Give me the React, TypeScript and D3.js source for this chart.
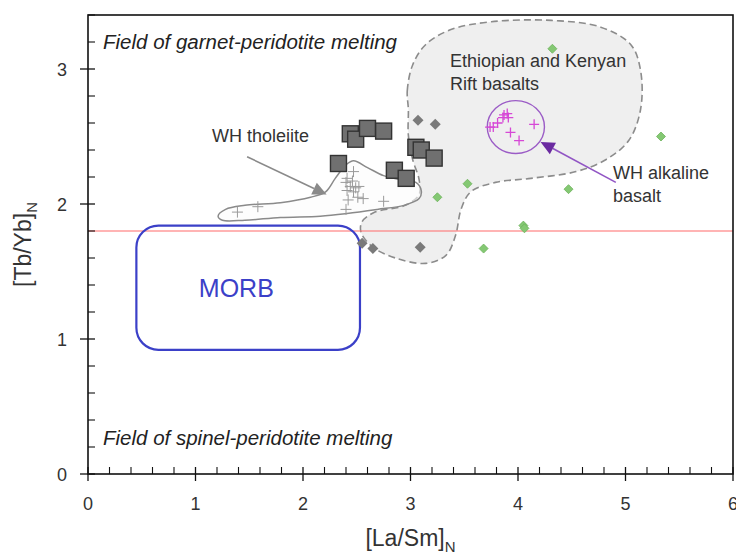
import React from 'react';
import * as d3 from 'd3';

// ---- axis ticks ----
const xTickValues = [0, 1, 2, 3, 4, 5, 6];
const yTickValues = [0, 1, 2, 3];
const xMinorStep = 0.2;
const yMinorStep = 0.2;

// ---- data series ([La/Sm]N, [Tb/Yb]N) ----
const whTholeiite: [number, number][] = [
  [1.39, 1.94], [1.58, 1.98], [2.47, 2.24], [2.41, 2.19], [2.40, 2.16], [2.44, 2.13],
  [2.49, 2.12], [2.52, 2.13], [2.41, 2.10], [2.47, 2.09], [2.51, 2.05], [2.42, 2.03],
  [2.56, 2.04], [2.75, 2.02], [2.40, 1.96], [2.46, 2.17],
];
const whAlkaline: [number, number][] = [
  [3.90, 2.67], [3.87, 2.66], [3.91, 2.64], [3.86, 2.64], [3.81, 2.60], [3.77, 2.57],
  [3.74, 2.57], [3.93, 2.53], [4.15, 2.59], [4.01, 2.47],
];
const squareSamples: [number, number][] = [
  [2.44, 2.52], [2.49, 2.48], [2.60, 2.56], [2.75, 2.54], [2.33, 2.30], [3.05, 2.42],
  [3.10, 2.40], [3.22, 2.34], [2.85, 2.25], [2.96, 2.19],
];
const greyDiamonds: [number, number][] = [
  [3.07, 2.62], [3.23, 2.59], [2.55, 1.71], [2.65, 1.67], [3.09, 1.68],
];
const greenDiamonds: [number, number][] = [
  [4.32, 3.15], [5.33, 2.50], [3.53, 2.15], [3.25, 2.05], [4.47, 2.11],
  [4.05, 1.84], [4.06, 1.82], [3.68, 1.67],
];

// ---- fields ----
const riftField: [number, number][] = [
  [2.98, 2.70], [2.97, 2.84], [3.02, 3.03], [3.14, 3.18], [3.37, 3.29], [3.75, 3.35],
  [4.31, 3.36], [4.77, 3.31], [5.05, 3.18], [5.14, 2.99], [5.14, 2.70], [5.03, 2.47],
  [4.82, 2.33], [4.54, 2.24], [4.12, 2.19], [3.79, 2.16], [3.56, 2.09], [3.47, 1.96],
  [3.42, 1.77], [3.33, 1.62], [3.14, 1.56], [2.86, 1.60], [2.65, 1.68], [2.54, 1.79],
  [2.55, 1.87], [2.67, 1.94], [2.95, 1.99], [3.08, 2.07], [3.08, 2.18], [3.02, 2.33],
  [2.98, 2.51],
];
const tholeiiteField: [number, number][] = [
  [1.21, 1.91], [1.28, 1.96], [1.46, 1.99], [1.79, 2.01], [2.07, 2.05], [2.21, 2.09],
  [2.30, 2.19], [2.40, 2.29], [2.47, 2.32], [2.60, 2.27], [2.75, 2.21], [2.91, 2.18],
  [3.05, 2.16], [3.10, 2.10], [3.08, 2.04], [2.94, 1.99], [2.69, 1.96], [2.41, 1.93],
  [2.16, 1.91], [1.79, 1.90], [1.46, 1.88], [1.25, 1.88],
];
const alkalineEllipse = { cx: 3.98, cy: 2.57, rx: 0.266, ry: 0.196 };
const morbBox = { x0: 0.45, x1: 2.53, y0: 0.92, y1: 1.84 };
const morbLabelAt: [number, number] = [1.38, 1.38];
const referenceLine = 1.8;

// ---- annotation arrows ([from], [to]) ----
const tholeiiteArrow: [number, number][] = [[1.48, 2.35], [2.22, 2.07]];
const alkalineArrow: [number, number][] = [[4.91, 2.16], [4.21, 2.46]];

const W = 736;
const H = 553;
const M = { left: 88, right: 3, top: 15, bottom: 79 };
const FONT = "'Liberation Sans', Arial, sans-serif";

function Arrow({ pts, x, y, color, headColor }: any) {
  const [a, b] = pts;
  const x1 = x(a[0]), y1 = y(a[1]), x2 = x(b[0]), y2 = y(b[1]);
  const ang = Math.atan2(y2 - y1, x2 - x1);
  const L = 14, Wd = 6.5;
  const bx = x2 - L * Math.cos(ang), by = y2 - L * Math.sin(ang);
  const p1 = [bx + Wd * Math.sin(ang), by - Wd * Math.cos(ang)];
  const p2 = [bx - Wd * Math.sin(ang), by + Wd * Math.cos(ang)];
  return (
    <g>
      <line x1={x1} y1={y1} x2={bx} y2={by} stroke={color} strokeWidth={1.6} />
      <path d={`M${x2},${y2}L${p1[0]},${p1[1]}L${p2[0]},${p2[1]}Z`} fill={headColor} />
    </g>
  );
}

export default function App() {
  const x = d3.scaleLinear().domain([0, 6]).range([M.left, W - M.right]);
  const y = d3.scaleLinear().domain([0, 3.4]).range([H - M.bottom, M.top]);
  const x0 = x(0), x1 = x(6), yb = y(0), yt = y(3.4);

  const closedCurve = d3.line<[number, number]>()
    .x(d => x(d[0])).y(d => y(d[1]))
    .curve(d3.curveCatmullRomClosed.alpha(0.5));

  const xMinor = d3.range(0, 6.0001, xMinorStep).filter(v => Math.abs(v - Math.round(v)) > 1e-6);
  const yMinor = d3.range(0, 3.4001, yMinorStep).filter(v => Math.abs(v - Math.round(v)) > 1e-6);

  const cross = (s: number) => `M${-s},0H${s}M0,${-s}V${s}`;
  const diamond = (s: number) => `M0,${-s}L${s},0L0,${s}L${-s},0Z`;

  return (
    <svg width={W} height={H} style={{ position: 'absolute', left: 0, top: 0, background: '#fff' }}
      fontFamily={FONT}>
      <rect x={0} y={0} width={W} height={H} fill="#fff" />

      {/* Rift field */}
      <path d={closedCurve(riftField) || ''} fill="#efefef" stroke="#8c8c8c" strokeWidth={1.6}
        strokeDasharray="7,4" />

      {/* Reference line */}
      <line x1={x0} x2={x1} y1={y(referenceLine)} y2={y(referenceLine)} stroke="#ff6b6b" strokeWidth={1.1} />

      {/* MORB box */}
      <rect x={x(morbBox.x0)} y={y(morbBox.y1)} width={x(morbBox.x1) - x(morbBox.x0)}
        height={y(morbBox.y0) - y(morbBox.y1)} rx={22} ry={22} fill="none" stroke="#3b40c8" strokeWidth={2.2} />
      <text x={x(morbLabelAt[0])} y={y(morbLabelAt[1]) + 9}
        textAnchor="middle" fontSize={25} fill="#3b40c8">MORB</text>

      {/* Tholeiite field */}
      <path d={closedCurve(tholeiiteField) || ''} fill="#fbfbfb" fillOpacity={0.6} stroke="#8a8a8a" strokeWidth={1.5} />

      {/* Tholeiite crosses */}
      {whTholeiite.map((d, i) => (
        <path key={'t' + i} d={cross(5.5)} transform={`translate(${x(d[0])},${y(d[1])})`}
          stroke="#9a9a9a" strokeWidth={1} fill="none" />
      ))}

      {/* Grey diamonds */}
      {greyDiamonds.map((d, i) => (
        <path key={'g' + i} d={diamond(5.5)} transform={`translate(${x(d[0])},${y(d[1])})`}
          fill="#7a7a7a" />
      ))}

      {/* Green diamonds */}
      {greenDiamonds.map((d, i) => (
        <path key={'gr' + i} d={diamond(4.5)} transform={`translate(${x(d[0])},${y(d[1])})`}
          fill="#84c873" stroke="#6db35c" strokeWidth={0.8} />
      ))}

      {/* Squares */}
      {squareSamples.map((d, i) => (
        <rect key={'s' + i} x={x(d[0]) - 8} y={y(d[1]) - 8} width={16} height={16}
          fill="#707070" stroke="#333" strokeWidth={1.4} />
      ))}

      {/* Alkaline ellipse and crosses */}
      <ellipse cx={x(alkalineEllipse.cx)} cy={y(alkalineEllipse.cy)}
        rx={x(alkalineEllipse.rx) - x(0)} ry={y(0) - y(alkalineEllipse.ry)}
        fill="none" stroke="#9b5cc6" strokeWidth={1.4} />
      {whAlkaline.map((d, i) => (
        <path key={'a' + i} d={cross(5)} transform={`translate(${x(d[0])},${y(d[1])})`}
          stroke="#d648d6" strokeWidth={1.3} fill="none" />
      ))}

      {/* Arrows */}
      <Arrow pts={tholeiiteArrow} x={x} y={y} color="#8a8a8a" headColor="#8a8a8a" />
      <Arrow pts={alkalineArrow} x={x} y={y} color="#9155c4" headColor="#6a2aa0" />

      {/* Annotations */}
      <text x={103} y={49} fontSize={20.5} fontStyle="italic" fill="#222">Field of garnet-peridotite melting</text>
      <text x={103} y={445} fontSize={20.5} fontStyle="italic" fill="#222">Field of spinel-peridotite melting</text>
      <text x={212} y={142} fontSize={18} fill="#333">WH tholeiite</text>
      <text x={450} y={67} fontSize={18} fill="#333">Ethiopian and Kenyan</text>
      <text x={450} y={90} fontSize={18} fill="#333">Rift basalts</text>
      <text x={613} y={179} fontSize={18} fill="#333">WH alkaline</text>
      <text x={613} y={202} fontSize={18} fill="#333">basalt</text>

      {/* Frame */}
      <rect x={x0} y={yt} width={x1 - x0} height={yb - yt} fill="none" stroke="#111" strokeWidth={1.6} />

      {/* X ticks */}
      {xTickValues.map(v => (
        <g key={'xt' + v}>
          <line x1={x(v)} x2={x(v)} y1={yb - 7} y2={yb + 7} stroke="#111" strokeWidth={1.3} />
          <text x={x(v)} y={yb + 36} textAnchor="middle" fontSize={18} fill="#333">{v}</text>
        </g>
      ))}
      {xMinor.map(v => (
        <line key={'xm' + v} x1={x(v)} x2={x(v)} y1={yb - 7} y2={yb} stroke="#111" strokeWidth={1.1} />
      ))}

      {/* Y ticks */}
      {yTickValues.map(v => (
        <g key={'yt' + v}>
          <line x1={x0 - 8} x2={x0 + 7} y1={y(v)} y2={y(v)} stroke="#111" strokeWidth={1.3} />
          <text x={67} y={y(v) + 6.5} textAnchor="end" fontSize={18} fill="#333">{v}</text>
        </g>
      ))}
      {yMinor.map(v => (
        <line key={'ym' + v} x1={x0} x2={x0 + 7} y1={y(v)} y2={y(v)} stroke="#111" strokeWidth={1.1} />
      ))}

      {/* Axis titles */}
      <text x={(x0 + x1) / 2} y={546} textAnchor="middle" fontSize={23} fill="#333">
        [La/Sm]<tspan dy={6} fontSize={15}>N</tspan>
      </text>
      <text transform={`translate(31,${(yt + yb) / 2}) rotate(-90)`} textAnchor="middle" fontSize={23} fill="#333">
        [Tb/Yb]<tspan dy={6} fontSize={15}>N</tspan>
      </text>
    </svg>
  );
}
